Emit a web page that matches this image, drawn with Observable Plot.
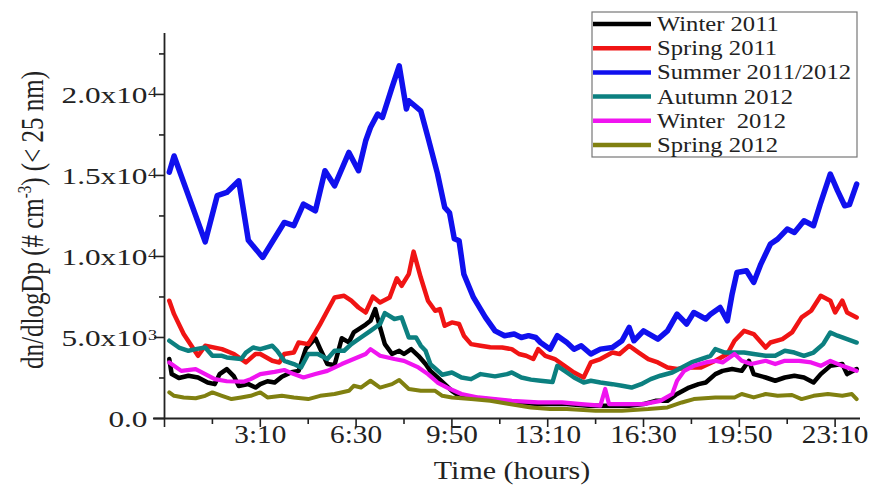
<!DOCTYPE html>
<html>
<head>
<meta charset="utf-8">
<script src="https://cdn.jsdelivr.net/npm/d3@7"></script>
<script src="https://cdn.jsdelivr.net/npm/@observablehq/plot@0.6"></script>
<style>
  html, body { margin: 0; padding: 0; background: #fff; overflow: hidden; }
  #chart svg { display: block; }
</style>
</head>
<body>
<div id="chart"></div>
<script>
// Diurnal cycle of nucleation-mode particles (< 25 nm), by season.
// Times are minutes after midnight, values are dn/dlogDp in # cm^-3.

const seriesNames = ["Winter 2011", "Spring 2011", "Summer 2011/2012", "Autumn 2012", "Winter  2012", "Spring 2012"];

const winter2011T = [0,5,20,40,60,80,95,105,120,135,145,165,180,190,205,220,235,255,270,285,305,315,330,345,360,375,385,410,420,430,440,450,465,480,490,505,520,535,545,560,575,590,605,630,660,695,730,770,830,875,960,990,1015,1040,1060,1085,1105,1120,1140,1155,1175,1195,1210,1220,1245,1265,1285,1305,1325,1345,1360,1380,1405,1415,1435];
const winter2011V = [3670,2740,2500,2640,2530,2220,2120,2740,3050,2600,2000,2120,1910,2120,2300,2220,2580,2850,2940,4300,4950,4300,3360,3300,4950,4700,5310,5800,6030,6750,5620,4590,3980,4180,3980,4280,3870,3360,2940,2530,2120,1710,1400,1300,1200,1090,990,890,890,780,780,890,1090,1090,1510,1910,2120,2220,2740,2940,3050,2940,3560,2740,2530,2330,2530,2640,2530,2220,2740,3250,3360,2740,3050];

const spring2011T = [0,10,30,60,75,110,135,160,180,190,215,230,240,260,270,290,305,315,330,345,365,380,395,410,425,440,460,475,485,500,510,525,540,555,565,575,590,605,615,630,650,670,695,715,730,745,760,770,785,805,825,845,865,880,900,925,940,960,980,1000,1020,1040,1060,1085,1110,1140,1165,1180,1200,1220,1245,1255,1280,1300,1320,1340,1360,1380,1390,1405,1415,1435];
const spring2011V = [7270,6440,5210,3870,4490,4280,3980,3460,3980,3980,3560,3460,3980,4070,4690,4590,5310,5830,6650,7470,7570,7270,6850,6540,7520,7160,7470,8650,8190,8910,10300,8700,7270,6650,6750,5720,5930,5830,5110,4590,4490,4400,4380,4280,3980,3870,3670,4280,3870,3670,3250,2840,2530,3460,3670,4070,3980,4490,4070,3670,3460,3150,3050,3150,3150,3560,3980,4800,5410,5210,4380,4690,4900,5310,6240,6650,7570,7270,6540,7270,6540,6240];

const summerT = [0,10,75,100,120,145,165,195,240,260,280,305,325,345,375,395,410,420,435,445,465,480,495,500,525,540,560,575,585,595,605,615,635,660,680,700,720,735,750,765,775,795,810,830,845,860,880,900,925,945,960,970,990,1020,1040,1060,1080,1095,1120,1130,1150,1165,1175,1185,1205,1220,1235,1255,1270,1290,1305,1325,1345,1360,1380,1395,1410,1420,1435];
const summerV = [15200,16200,10900,13750,13950,14670,11000,9940,12100,11900,13230,12820,15290,14360,16420,15290,17140,17960,18790,18580,20430,21770,19100,19610,18990,17350,15100,13030,12700,11100,10970,8900,7470,6240,5410,5110,5210,5000,5110,5000,4690,4280,5110,4690,4280,4490,3980,4280,4380,4800,5620,4800,5410,4900,5410,6440,5830,6540,6140,6440,6850,6030,7680,9010,9120,8400,9530,10770,11070,11690,11480,12200,11900,13330,15090,14060,13130,13200,14470];

const autumn2012T = [0,20,40,55,75,90,110,120,150,160,175,190,215,225,240,260,275,290,310,330,345,365,380,400,420,440,450,470,485,500,515,525,535,545,570,590,610,630,650,680,705,715,735,755,775,800,810,830,845,865,880,900,925,945,965,985,1005,1025,1050,1070,1090,1110,1130,1140,1160,1200,1220,1245,1265,1285,1305,1325,1345,1365,1380,1395,1415,1435];
const autumn2012V = [4800,4380,4180,4280,4380,3870,3870,3770,3670,4070,4380,4280,4490,4180,3560,3360,3150,3980,3980,3670,4180,4180,4590,5000,5410,5830,6500,6140,6240,5000,5000,4490,4180,3360,2700,2840,2530,2430,2740,2600,2740,2840,2530,2400,2330,2250,3250,2840,2530,2220,2330,2220,2120,2020,1910,2120,2430,2640,2840,3150,3460,3670,3870,4280,4070,4070,3980,3870,3870,4180,4070,3870,4070,4590,5310,5110,4900,4690];

const winter2012T = [0,25,55,75,95,120,155,170,190,220,240,260,280,305,330,360,385,410,420,440,470,490,520,540,560,580,610,645,680,715,770,820,860,900,910,918,990,1025,1050,1060,1075,1095,1120,1140,1155,1180,1195,1215,1245,1265,1285,1315,1340,1360,1380,1405,1435];
const winter2012V = [3460,2940,3050,2740,2430,2300,2270,2430,2740,2880,2990,2740,2530,2740,2940,3360,3670,3980,4280,3870,3670,3560,3150,2740,2220,1910,1510,1300,1200,1090,990,990,890,790,1820,890,890,1090,1510,2330,2940,3250,3460,3560,3460,3980,3560,3360,3560,3360,3560,3560,3460,3250,3560,3250,2940];

const spring2012T = [0,10,30,55,75,90,110,130,150,170,190,205,235,260,290,315,345,375,385,400,420,440,465,480,500,525,555,570,590,630,670,710,755,795,830,890,945,1000,1040,1070,1095,1140,1180,1195,1220,1245,1270,1300,1320,1345,1375,1405,1425,1435];
const spring2012V = [1610,1400,1300,1250,1400,1610,1400,1200,1300,1400,1610,1300,1400,1300,1200,1400,1510,1710,2020,1910,2330,1910,2120,2380,1820,1710,1710,1400,1300,1200,1090,890,680,580,580,480,480,580,680,990,1200,1300,1300,1510,1300,1510,1400,1450,1200,1400,1510,1400,1510,1200];

const seriesTimes = [winter2011T, spring2011T, summerT, autumn2012T, winter2012T, spring2012T];
const seriesValues = [winter2011V, spring2011V, summerV, autumn2012V, winter2012V, spring2012V];

// Axis ticks (minutes) and y tick labels
const xMajorTicks = [-10, 190, 390, 590, 790, 990, 1190, 1390];
const xMinorTicks = [90, 290, 490, 690, 890, 1090, 1290];
const yMajorTicks = [0, 5000, 10000, 15000, 20000];
const yMinorTicks = [2500, 7500, 12500, 17500, 22500];
const yTickMantissa = ["0.0", "5.0x10", "1.0x10", "1.5x10", "2.0x10"];
const yTickExponent = ["", "3", "4", "4", "4"];

// Styling
const seriesColors = ["#000000", "#f01414", "#1010ee", "#0c8080", "#f014f0", "#808010"];
const seriesWidths = [4.5, 4.5, 5.5, 4.5, 4.2, 4];
const serif = "'Liberation Serif', 'Times New Roman', serif";
const ink = "#222";

const rows = seriesNames.flatMap((name, i) =>
  seriesTimes[i].map((t, j) => ({name, t, v: seriesValues[i][j]}))
);

const fmtTime = m => m < 0 ? "" : `${Math.floor(m / 60)}:${String(m % 60).padStart(2, "0")}`;

const plot = Plot.plot({
  width: 871,
  height: 485,
  marginLeft: 164,
  marginRight: 11,
  marginTop: 33,
  marginBottom: 67,
  x: {domain: [-10, 1443], label: null},
  y: {domain: [0, 23760], label: null},
  style: {fontFamily: serif, background: "#fff", color: ink, overflow: "visible"},
  marks: [
    // tick marks (labels drawn separately)
    Plot.axisX({ticks: xMajorTicks, tickSize: 9, tickFormat: () => "", stroke: ink, strokeWidth: 1.6, label: null}),
    Plot.axisX({ticks: xMinorTicks, tickSize: 6, tickFormat: () => "", stroke: ink, strokeWidth: 1.6, label: null}),
    Plot.axisY({ticks: yMajorTicks, tickSize: 10, tickFormat: () => "", stroke: ink, strokeWidth: 1.6, label: null}),
    Plot.axisY({ticks: yMinorTicks, tickSize: 5, tickFormat: () => "", stroke: ink, strokeWidth: 1.6, label: null}),
    // axis lines
    Plot.ruleY([0], {x1: -33, x2: 1443, stroke: ink, strokeWidth: 1.8}),
    Plot.ruleX([-10], {y1: 0, y2: 23760, stroke: ink, strokeWidth: 1.8}),
    // tick labels
    Plot.text(xMajorTicks.filter(d => d >= 0), {
      x: d => d, text: fmtTime, frameAnchor: "bottom", dy: 24,
      fontSize: 25, fill: ink
    }),
    Plot.text(yMajorTicks, {
      y: d => d, text: (d, i) => yTickMantissa[i], frameAnchor: "left", dx: -17, dy: 1,
      textAnchor: "end", fontSize: 23, fill: ink
    }),
    Plot.text(yMajorTicks, {
      y: d => d, text: (d, i) => yTickExponent[i], frameAnchor: "left", dx: -16.5, dy: -2,
      textAnchor: "start", fontSize: 14, fill: ink
    }),
    // seasonal curves
    ...seriesNames.map((name, i) =>
      Plot.line(rows.filter(r => r.name === name), {
        x: "t", y: "v", stroke: seriesColors[i], strokeWidth: seriesWidths[i],
        strokeLinejoin: "round", strokeLinecap: "round"
      })
    )
  ]
});

document.getElementById("chart").append(plot);

const svg = d3.select(plot);

// widen glyphs horizontally about their anchor point
function stretch(selection, sx) {
  selection.each(function () {
    const b = this.getBBox();
    const anchor = getComputedStyle(this).textAnchor;
    const ax = anchor === "end" ? b.x + b.width : anchor === "middle" ? b.x + b.width / 2 : b.x;
    const prev = this.getAttribute("transform") || "";
    this.setAttribute("transform", `${prev} translate(${ax},0) scale(${sx},1) translate(${-ax},0)`);
  });
}

// the three text marks, in the order they were declared
const textGroups = plot.querySelectorAll('g[aria-label="text"]');
stretch(d3.select(textGroups[0]).selectAll("text"), 1.17);
stretch(d3.select(textGroups[1]).selectAll("text"), 1.36);
stretch(d3.select(textGroups[2]).selectAll("text"), 1.3);

// y-axis title
const yTitle = svg.append("g")
  .attr("transform", "translate(43,220) scale(1.3,1)")
  .append("text")
  .attr("transform", "rotate(-90)")
  .attr("text-anchor", "middle")
  .attr("font-family", serif)
  .attr("font-size", 25)
  .attr("fill", ink);
yTitle.append("tspan").text("dn/dlogDp (# cm");
yTitle.append("tspan").attr("dy", -9).attr("font-size", 15).text("-3");
yTitle.append("tspan").attr("dy", 9).text(") (< 25 nm)");

// x-axis title
const xTitle = svg.append("text")
  .attr("x", 512)
  .attr("y", 479)
  .attr("text-anchor", "middle")
  .attr("font-family", serif)
  .attr("font-size", 25)
  .attr("fill", ink)
  .text("Time (hours)");
stretch(xTitle, 1.2);

// legend
const legend = svg.append("g").attr("font-family", serif).attr("font-size", 22).attr("fill", ink);
legend.append("rect")
  .attr("x", 592).attr("y", 12).attr("width", 265).attr("height", 145)
  .attr("fill", "#fff").attr("stroke", "#777").attr("stroke-width", 1.2);
seriesNames.forEach((name, i) => {
  const y = 24 + i * 24.2;
  legend.append("line")
    .attr("x1", 593).attr("x2", 651).attr("y1", y).attr("y2", y)
    .attr("stroke", seriesColors[i]).attr("stroke-width", 4.5);
  legend.append("text")
    .attr("x", 657).attr("y", y + 7)
    .attr("text-anchor", "start")
    .style("white-space", "pre")
    .text(name);
});
stretch(legend.selectAll("text"), 1.12);
</script>
</body>
</html>
